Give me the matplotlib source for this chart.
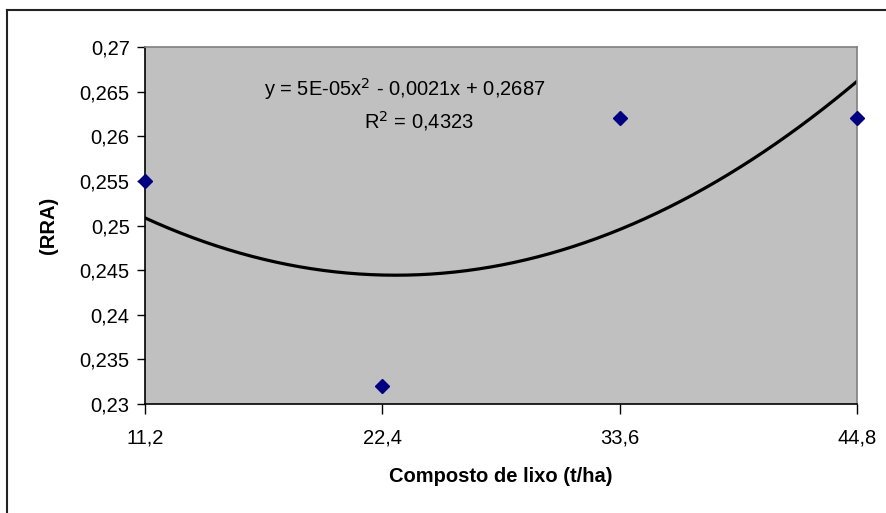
import numpy as np
import matplotlib
matplotlib.use("Agg")
import matplotlib.pyplot as plt
from matplotlib.lines import Line2D

plt.rcParams['font.family'] = ['Liberation Sans', 'DejaVu Sans']

x_vals = [11.2, 22.4, 33.6, 44.8]
y_vals = [0.255, 0.232, 0.262, 0.262]
x_tick_labels = ["11,2", "22,4", "33,6", "44,8"]
y_ticks = [0.23, 0.235, 0.24, 0.245, 0.25, 0.255, 0.26, 0.265, 0.27]
y_tick_labels = ["0,23", "0,235", "0,24", "0,245", "0,25", "0,255", "0,26", "0,265", "0,27"]
eq_line1 = "y = 5E-05x$^2$ - 0,0021x + 0,2687"
eq_line2 = "R$^2$ = 0,4323"

W, H = 887, 513
FS = 14.5
fig = plt.figure(figsize=(W / 100, H / 100), dpi=100)
ax = fig.add_axes([145 / W, 1 - 404 / H, (857 - 145) / W, (404 - 47) / H])
ax.set_facecolor('#C0C0C0')

coef = np.polyfit(x_vals, y_vals, 2)
xs = np.linspace(x_vals[0], x_vals[-1], 300)
ax.plot(xs, np.polyval(coef, xs), color='black', lw=2.3, zorder=2)
ax.plot(x_vals, y_vals, linestyle='none', marker='D', markersize=7,
        color='#000080', clip_on=False, zorder=3)

ax.set_xlim(11.2, 44.8)
ax.set_ylim(0.23, 0.27)
ax.set_xticks(x_vals)
ax.set_xticklabels(x_tick_labels)
ax.set_yticks(y_ticks)
ax.set_yticklabels(y_tick_labels)
ax.tick_params(axis='both', labelsize=FS, direction='out', color='black', width=1)
ax.tick_params(axis='x', length=7, pad=11)
ax.tick_params(axis='y', length=6, pad=5)

for s in ['left', 'bottom']:
    ax.spines[s].set_color('black')
    ax.spines[s].set_linewidth(1.2)
for s in ['top', 'right']:
    ax.spines[s].set_color('#808080')
    ax.spines[s].set_linewidth(1.2)

fig.text(405 / W, 1 - 89 / H, eq_line1, fontsize=FS, ha='center', va='center')
fig.text(419 / W, 1 - 121 / H, eq_line2, fontsize=FS, ha='center', va='center')

fig.text(501 / W, 1 - 477 / H, "Composto de lixo (t/ha)", fontsize=FS,
         fontweight='bold', ha='center', va='center')
fig.text(49 / W, 1 - 225 / H, "(RRA)", fontsize=FS, fontweight='bold',
         rotation=90, ha='center', va='center')

# outer chart border
fig.add_artist(Line2D([7.5 / W, 7.5 / W], [0, 1 - 10 / H], color='#222222', lw=1.5))
fig.add_artist(Line2D([7.5 / W, 1], [1 - 10 / H, 1 - 10 / H], color='#222222', lw=1.5))

fig.savefig("out.png", dpi=100)
